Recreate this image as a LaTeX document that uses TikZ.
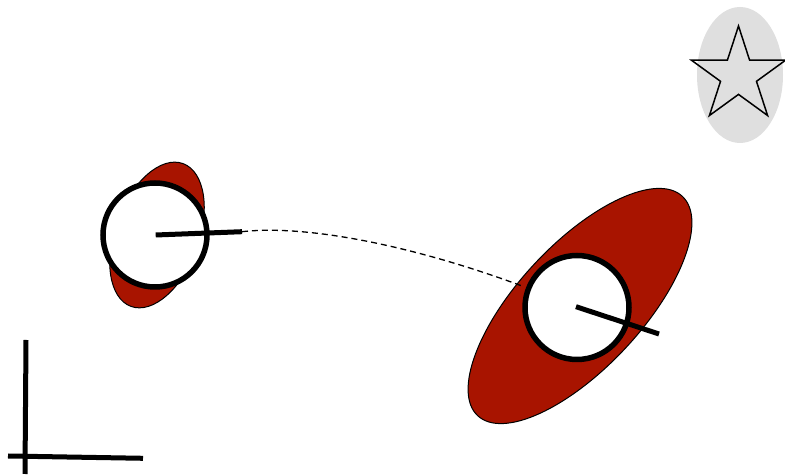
\documentclass[tikz,border=0pt]{standalone}
\usetikzlibrary{shapes.geometric}
\definecolor{blobred}{RGB}{168,20,0}
\begin{document}
\begin{tikzpicture}[x=1pt,y=1pt,
  blob/.style={ellipse,draw=black,line width=1pt,fill=blobred,inner sep=0pt},
  ring/.style={circle,draw=black,line width=5.5pt,fill=white,inner sep=0pt,minimum size=104pt},
  stick/.style={line width=5pt},
  axisline/.style={line width=5pt},
  link/.style={dashed,line width=1.3pt,dash pattern=on 6pt off 4pt}]
\useasboundingbox (0,0) rectangle (785,476);
% star marker
\node[ellipse,fill=gray!25,inner sep=0pt,minimum width=86pt,minimum height=136pt] (halo) at (740,401) {};
\node[star,star points=5,star point ratio=2.618,draw=black,line width=1.5pt,inner sep=0pt,minimum size=99pt] (st) at (738.5,400.5) {};
% left blob
\node[blob,minimum width=84pt,minimum height=152pt,rotate=-20] (lb) at (157,241) {};
\node[ring] (lc) at (155,241) {};
\coordinate (la) at (155.7,241);
\coordinate (lt) at (242,244.3);
\draw[stick] (la) -- (lt);
% right blob
\node[blob,minimum width=300pt,minimum height=124pt,rotate=47] (rb) at (580,170) {};
\coordinate (re) at (522,190);
\draw[link] (lt) .. controls (310,252) and (420,228) .. (re);
\node[ring] (rc) at (577,168.5) {};
\coordinate (ra) at (576,169.3);
\coordinate (rt) at (659,142);
\draw[stick] (ra) -- (rt);
% axes
\coordinate (v1) at (26,136);
\coordinate (v2) at (25,2);
\coordinate (h1) at (8,20);
\coordinate (h2) at (143,17.7);
\draw[axisline] (v1) -- (v2);
\draw[axisline] (h1) -- (h2);
\end{tikzpicture}
\end{document}
